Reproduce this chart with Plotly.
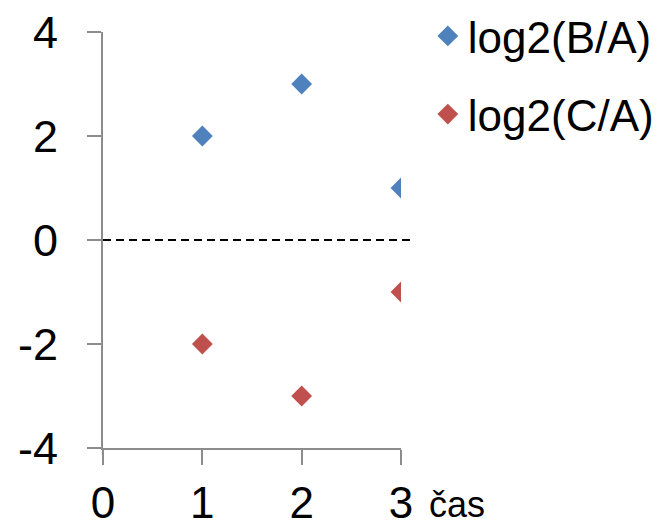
import plotly.graph_objects as go

x_vals = [1, 2, 3]
log2_BA = [2, 3, 1]
log2_CA = [-2, -3, -1]
series_names = ["log2(B/A)", "log2(C/A)"]
x_ticks = [0, 1, 2, 3]
y_ticks = [-4, -2, 0, 2, 4]
y_ticktext = ["-4", "-2", "0", "2", "4"]
x_title = "čas"

FONT = "Liberation Sans, Arial, sans-serif"

fig = go.Figure()
fig.add_trace(go.Scatter(x=x_vals, y=log2_BA, mode="markers", name=series_names[0],
                         legendgroup="a",
                         marker=dict(symbol="diamond", size=16, color="#4F81BD")))
fig.add_trace(go.Scatter(x=x_vals, y=log2_CA, mode="markers", name=series_names[1],
                         legendgroup="b",
                         marker=dict(symbol="diamond", size=16, color="#C0504D")))

fig.add_shape(type="line", xref="paper", yref="y", x0=0, x1=1.033, y0=0, y1=0,
              line=dict(color="black", width=2, dash="8px,5px"))

fig.add_annotation(text=x_title, xref="paper", yref="paper", x=1, y=0,
                   xanchor="left", yanchor="top", xshift=26, yshift=-34,
                   showarrow=False, font=dict(size=36, color="black", family=FONT))

fig.update_xaxes(range=[0, 3], tickvals=x_ticks, showgrid=False, zeroline=False,
                 showline=True, linecolor="#8c8c8c", linewidth=2,
                 ticks="outside", ticklen=15, tickwidth=2, tickcolor="#8c8c8c",
                 ticklabelstandoff=0, automargin=False, ticklabeloverflow="allow",
                 tickfont=dict(size=44, color="black", family=FONT))
fig.update_yaxes(range=[-4, 4], tickvals=y_ticks, ticktext=y_ticktext,
                 showgrid=False, zeroline=False,
                 showline=True, linecolor="#8c8c8c", linewidth=2,
                 ticks="outside", ticklen=14, tickwidth=2, tickcolor="#8c8c8c",
                 ticklabelstandoff=20, automargin=False, ticklabeloverflow="allow",
                 tickfont=dict(size=45, color="black", family=FONT))

fig.update_layout(
    width=671, height=526,
    margin=dict(l=95, r=278, t=24, b=86, autoexpand=False),
    paper_bgcolor="white", plot_bgcolor="white",
    showlegend=True,
    legend=dict(x=1.09, y=1.075, xanchor="left", yanchor="top",
                font=dict(size=44, color="black", family=FONT),
                tracegroupgap=18, bgcolor="rgba(0,0,0,0)"),
)

fig.write_html("out.html")
